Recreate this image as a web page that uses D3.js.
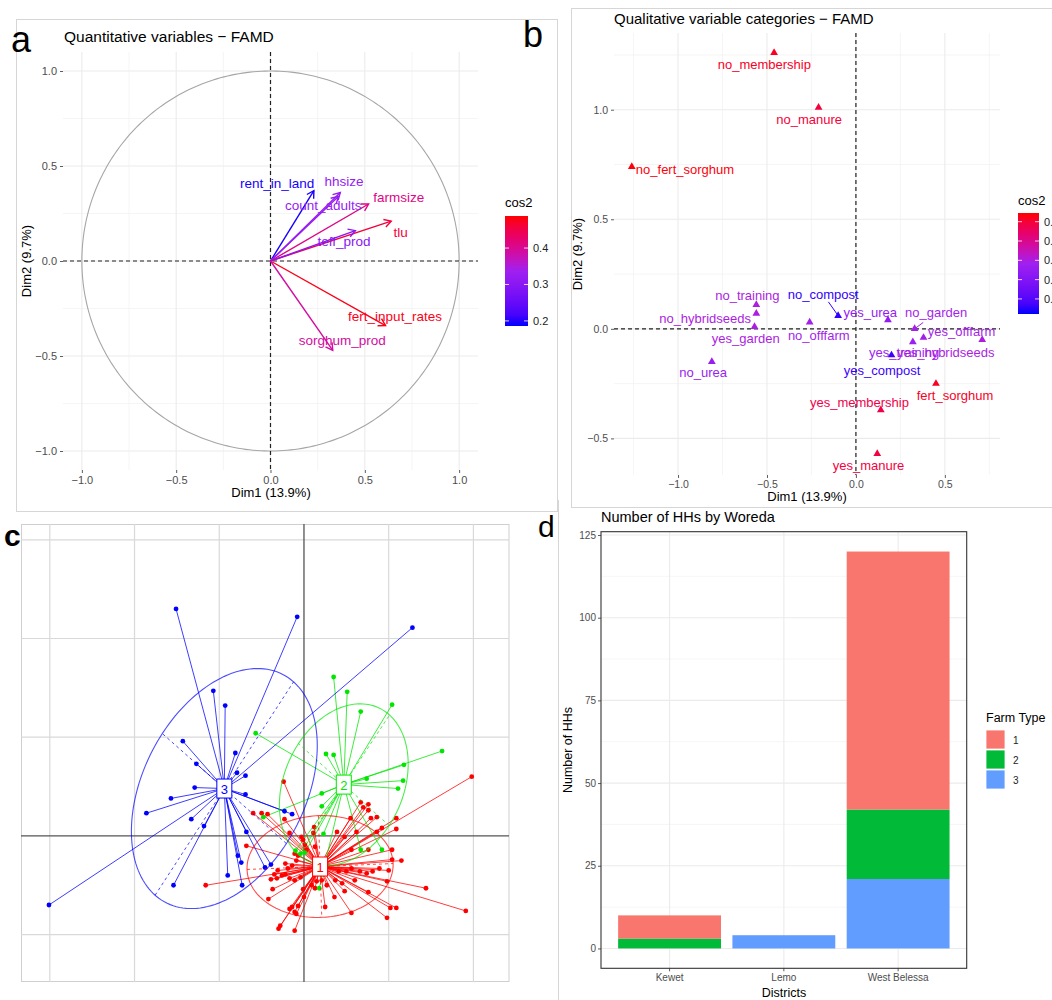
<!DOCTYPE html>
<html>
<head>
<meta charset="utf-8">
<script src="https://cdn.jsdelivr.net/npm/d3@7"></script>
<style>
body { margin: 0; background: #fff; }
text { font-family: "Liberation Sans", Arial, sans-serif; }
</style>
</head>
<body>
<div id="chart-area"></div>
<script>

// a - quantitative variables
const quantVars = ["rent_in_land", "hhsize", "count_adults", "farmsize", "tlu", "teff_prod", "fert_input_rates", "sorghum_prod"]
const quantDim1 = [0.23, 0.37, 0.36, 0.52, 0.64, 0.45, 0.61, 0.33]
const quantDim2 = [0.37, 0.36, 0.34, 0.30, 0.21, 0.16, -0.34, -0.47]
const quantCos2 = [0.19, 0.32, 0.32, 0.41, 0.46, 0.30, 0.48, 0.39]
const quantLabelX = [0.035, 0.39, 0.28, 0.68, 0.69, 0.39, 0.66, 0.38]
const quantLabelY = [0.41, 0.42, 0.29, 0.333, 0.15, 0.105, -0.29, -0.42]
const quantLegendTicks = [0.2, 0.3, 0.4]

// b - qualitative categories
const qualCats = ["no_membership", "no_manure", "no_fert_sorghum", "no_training", "no_hybridseeds", "yes_garden", "no_urea", "no_offfarm", "no_compost", "yes_urea", "no_garden", "yes_offfarm", "yes_training", "yes_hybridseeds", "yes_compost", "fert_sorghum", "yes_membership", "yes_manure"]
const qualDim1 = [-0.46, -0.21, -1.26, -0.56, -0.56, -0.57, -0.81, -0.26, -0.10, 0.18, 0.33, 0.38, 0.32, 0.71, 0.20, 0.45, 0.14, 0.12]
const qualDim2 = [1.26, 1.01, 0.74, 0.11, 0.07, 0.01, -0.15, 0.03, 0.06, 0.04, 0.00, -0.04, -0.06, -0.05, -0.12, -0.25, -0.37, -0.57]
const qualCos2 = [0.52, 0.50, 0.54, 0.30, 0.30, 0.30, 0.26, 0.29, 0.05, 0.25, 0.29, 0.29, 0.27, 0.30, 0.06, 0.52, 0.48, 0.49]
const qualLabelX = [-0.515, -0.263, -0.961, -0.61, -0.848, -0.619, -0.859, -0.209, -0.184, 0.081, 0.451, 0.594, 0.271, 0.505, 0.147, 0.557, 0.02, 0.071]
const qualLabelY = [1.206, 0.954, 0.729, 0.15, 0.045, -0.046, -0.2, -0.03, 0.157, 0.076, 0.073, -0.01, -0.107, -0.107, -0.188, -0.306, -0.335, -0.625]
const qualLegendTicks = [0.1, 0.2, 0.3, 0.4, 0.5]

// c - farm type clusters (ade4 s.class style)
const type1Points = [[1.98, 0.60], [1.44, -0.53], [1.91, -0.76], [-1.16, -0.50], [-0.24, 0.55],
	[-0.60, 0.23], [-0.50, 0.23], [-0.43, 0.22], [-0.23, 0.17], [-0.17, 0.03], [-0.01, -0.04], [0.01, -0.09],
	[-0.11, -0.18], [-0.07, -0.20], [-0.09, -0.25], [-0.14, -0.30], [-0.22, -0.28], [-0.19, -0.33], [-0.31, -0.35],
	[-0.26, -0.40], [-0.39, -0.44], [-0.32, -0.43], [-0.22, -0.39], [-0.17, -0.43], [-0.11, -0.45], [-0.04, -0.42],
	[-0.01, -0.54], [0.13, -0.53], [-0.37, -0.54], [-0.42, -0.64], [-0.14, -0.72], [-0.11, -0.77], [-0.07, -0.71],
	[-0.09, -0.79], [-0.17, -0.74], [-0.28, -0.91], [-0.30, -0.94], [-0.11, -0.96], [0.00, -0.62], [0.25, -0.72],
	[0.36, -0.62], [0.37, -0.45], [0.45, -0.48], [0.48, -0.56], [0.56, -0.78], [0.60, -0.45], [0.74, -0.38],
	[0.81, -0.36], [0.89, -0.33], [1.00, -0.35], [0.98, -0.46], [1.09, -0.73], [0.98, -0.83], [1.04, -0.24],
	[1.15, -0.25], [1.04, -0.14], [0.76, -0.14], [0.56, -0.14], [0.86, 0.04], [0.92, 0.08], [0.76, 0.26],
	[0.76, 0.32], [0.70, 0.29], [0.62, 0.04], [0.48, -0.01], [0.39, 0.04], [0.13, -0.11], [0.12, 0.09],
	[0.11, 0.03], [-0.35, -0.39], [0.41, -0.36], [0.50, -0.36], [0.56, -0.33], [0.66, -0.36], [0.21, -0.45],
	[0.27, -0.50], [0.15, -0.46], [0.09, -0.50], [0.03, -0.14], [-0.03, -0.01],
	[1.09, 0.18], [1.09, 0.07], [0.76, -0.57], [-0.68, -0.10], [0.79, 0.18], [0.86, 0.19], [0.55, 0.18], [0.67, 0.34], [1.02, -0.73]]
const type2Points = [[0.35, 1.61], [0.51, 1.46], [0.67, 1.26], [1.04, 1.33], [-0.57, 1.04], [0.26, 0.83], [0.35, 0.82],
	[1.18, 0.72], [1.63, 0.86], [0.74, 0.58], [1.17, 0.56], [1.11, 0.48], [0.21, 0.43], [0.21, 0.30], [-0.48, 0.19],
	[0.23, 0.02], [0.67, -0.14], [0.92, -0.14], [-0.10, -0.15], [0.18, -0.53], [-0.04, -0.18], [0.01, -0.17]]
const type3Points = [[-1.51, 2.30], [-0.08, 2.22], [1.28, 2.11], [-3.01, -0.70], [-1.07, 1.47], [-0.93, 1.32], [-1.43, 0.96],
	[-1.27, 0.73], [-0.81, 0.84], [-0.79, 0.64], [-0.69, 0.61], [-1.29, 0.49], [-1.57, 0.38], [-1.86, 0.23], [-1.33, 0.17],
	[-1.18, 0.10], [-0.69, 0.42], [-0.23, 0.25], [-0.14, 0.22], [-0.68, 0.04], [-0.78, -0.20], [-0.74, -0.27],
	[-0.90, -0.40], [-0.73, -0.50], [-1.54, -0.50], [-0.46, -0.32], [-0.39, -0.29]]
const typeCentroids = [[0.19, -0.31], [0.47, 0.52], [-0.94, 0.48]]
const ellipseMajor = [[0.862, 0.03], [0.54, 0.705], [0.817, 1.081]]
const ellipseMinor = [[0.02, -0.515], [-0.535, 0.415], [-0.732, 0.557]]

// d - households by woreda
const districts = ["Kewet", "Lemo", "West Belessa"]
const farmTypes = ["1", "2", "3"]
const type1Counts = [7, 0, 78]
const type2Counts = [3, 0, 21]
const type3Counts = [0, 4, 21]
const countTicks = [0, 25, 50, 75, 100, 125]

// R's "purple", not the CSS one
const gradientColours = ["#0000FF", "#A020F0", "#FF0000"]

const svg = d3.select("#chart-area").append("svg")
	.attr("width", 1052)
	.attr("height", 1000)
	.style("display", "block")

// image frames of the four pasted plots
svg.append("rect").attr("x", 16.5).attr("y", 19.5).attr("width", 541).attr("height", 492)
	.attr("fill", "none").attr("stroke", "#d6d6d6")
svg.append("rect").attr("x", 571.5).attr("y", 8.5).attr("width", 520).attr("height", 499)
	.attr("fill", "none").attr("stroke", "#d6d6d6")
svg.append("line").attr("x1", 558.5).attr("x2", 558.5).attr("y1", 500).attr("y2", 1000)
	.attr("stroke", "#d6d6d6")

function styleAxis(ax, size) {
	ax.select(".domain").remove()
	ax.selectAll(".tick line").attr("stroke", "#333").attr("stroke-width", 0.8)
	ax.selectAll(".tick text").attr("fill", "#4d4d4d").attr("font-size", size)
		.style("font-family", "'Liberation Sans', Arial, sans-serif")
}

function arrowHead(x0, y0, x1, y1, len) {
	const ang = Math.atan2(y1 - y0, x1 - x0)
	const p = d3.path()
	p.moveTo(x1 - len * Math.cos(ang - Math.PI / 6), y1 - len * Math.sin(ang - Math.PI / 6))
	p.lineTo(x1, y1)
	p.lineTo(x1 - len * Math.cos(ang + Math.PI / 6), y1 - len * Math.sin(ang + Math.PI / 6))
	return p.toString()
}

/******************************** Panel a ********************************/

const gA = svg.append("g")
const xA = d3.scaleLinear().domain([-1.1, 1.1]).range([63, 478])
const yA = d3.scaleLinear().domain([-1.1, 1.1]).range([470, 52])
const colA = d3.scaleLinear()
	.domain([0.186, (0.186 + 0.488) / 2, 0.488])
	.range(gradientColours)
	.interpolate(d3.interpolateLab)

const majA = [-1, -0.5, 0, 0.5, 1]
const minA = [-0.75, -0.25, 0.25, 0.75]
gA.selectAll(".gxmin").data(minA).enter().append("line")
	.attr("x1", d => xA(d)).attr("x2", d => xA(d)).attr("y1", 52).attr("y2", 470)
	.attr("stroke", "#f0f0f0").attr("stroke-width", 0.7)
gA.selectAll(".gymin").data(minA).enter().append("line")
	.attr("y1", d => yA(d)).attr("y2", d => yA(d)).attr("x1", 63).attr("x2", 478)
	.attr("stroke", "#f0f0f0").attr("stroke-width", 0.7)
gA.selectAll(".gxmaj").data(majA).enter().append("line")
	.attr("x1", d => xA(d)).attr("x2", d => xA(d)).attr("y1", 52).attr("y2", 470)
	.attr("stroke", "#ebebeb").attr("stroke-width", 1.1)
gA.selectAll(".gymaj").data(majA).enter().append("line")
	.attr("y1", d => yA(d)).attr("y2", d => yA(d)).attr("x1", 63).attr("x2", 478)
	.attr("stroke", "#ebebeb").attr("stroke-width", 1.1)

// correlation circle
const circleLine = d3.line().x(t => xA(Math.cos(t))).y(t => yA(Math.sin(t)))
gA.append("path")
	.attr("d", circleLine(d3.range(0, 2 * Math.PI + 0.01, 0.02)))
	.attr("fill", "none").attr("stroke", "#a6a6a6").attr("stroke-width", 1.1)

gA.append("line").attr("x1", xA(0)).attr("x2", xA(0)).attr("y1", 52).attr("y2", 470)
	.attr("stroke", "#222").attr("stroke-width", 1.2).attr("stroke-dasharray", "4,3")
gA.append("line").attr("y1", yA(0)).attr("y2", yA(0)).attr("x1", 63).attr("x2", 478)
	.attr("stroke", "#222").attr("stroke-width", 1.2).attr("stroke-dasharray", "4,3")

quantVars.forEach((v, i) => {
	const x0 = xA(0), y0 = yA(0)
	const x1 = xA(quantDim1[i]), y1 = yA(quantDim2[i])
	const col = colA(quantCos2[i])
	gA.append("line").attr("x1", x0).attr("y1", y0).attr("x2", x1).attr("y2", y1)
		.attr("stroke", col).attr("stroke-width", 1.4)
	gA.append("path").attr("d", arrowHead(x0, y0, x1, y1, 8))
		.attr("fill", "none").attr("stroke", col).attr("stroke-width", 1.4)
})
quantVars.forEach((v, i) => {
	gA.append("text")
		.attr("x", xA(quantLabelX[i])).attr("y", yA(quantLabelY[i]))
		.attr("text-anchor", "middle").attr("dominant-baseline", "central")
		.attr("font-size", 13.5).attr("fill", colA(quantCos2[i]))
		.text(v)
})

const axAx = gA.append("g").attr("transform", "translate(0,470)")
	.call(d3.axisBottom(xA).tickValues(majA).tickFormat(d3.format(".1f")).tickSize(3).tickPadding(3))
styleAxis(axAx, 11)
const axAy = gA.append("g").attr("transform", "translate(63,0)")
	.call(d3.axisLeft(yA).tickValues(majA).tickFormat(d3.format(".1f")).tickSize(3).tickPadding(3))
styleAxis(axAy, 11)

gA.append("text").attr("x", 64).attr("y", 42).attr("font-size", 15.5).attr("fill", "#000")
	.text("Quantitative variables \u2212 FAMD")
gA.append("text").attr("x", 271).attr("y", 497).attr("text-anchor", "middle")
	.attr("font-size", 13).text("Dim1 (13.9%)")
gA.append("text").attr("transform", "translate(31,261) rotate(-90)").attr("text-anchor", "middle")
	.attr("font-size", 13).text("Dim2 (9.7%)")

// colour bar a
const defs = svg.append("defs")
const gradA = defs.append("linearGradient").attr("id", "gradA")
	.attr("x1", 0).attr("y1", 1).attr("x2", 0).attr("y2", 0)
d3.range(0, 1.001, 0.1).forEach(t => {
	gradA.append("stop").attr("offset", t).attr("stop-color", colA(0.186 + t * (0.488 - 0.186)))
})
const lyA = d3.scaleLinear().domain([0.186, 0.488]).range([326, 216])
gA.append("text").attr("x", 505).attr("y", 207).attr("font-size", 13).text("cos2")
gA.append("rect").attr("x", 505).attr("y", 216).attr("width", 23).attr("height", 110)
	.attr("fill", "url(#gradA)")
quantLegendTicks.forEach(v => {
	gA.append("line").attr("x1", 505).attr("x2", 509).attr("y1", lyA(v)).attr("y2", lyA(v))
		.attr("stroke", "#fff").attr("stroke-width", 0.8)
	gA.append("line").attr("x1", 524).attr("x2", 528).attr("y1", lyA(v)).attr("y2", lyA(v))
		.attr("stroke", "#fff").attr("stroke-width", 0.8)
	gA.append("text").attr("x", 533).attr("y", lyA(v)).attr("dominant-baseline", "central")
		.attr("font-size", 11).attr("fill", "#222").text(d3.format(".1f")(v))
})

/******************************** Panel b ********************************/

const gB = svg.append("g")
const xB = d3.scaleLinear().domain([-1.36, 0.81]).range([614, 1000])
const yB = d3.scaleLinear().domain([-0.667, 1.35]).range([475, 33])
const colB = d3.scaleLinear()
	.domain([0.022, (0.022 + 0.545) / 2, 0.545])
	.range(gradientColours)
	.interpolate(d3.interpolateLab)

const majBx = [-1, -0.5, 0, 0.5], minBx = [-1.25, -0.75, -0.25, 0.25, 0.75]
const majBy = [-0.5, 0, 0.5, 1], minBy = [-0.25, 0.25, 0.75, 1.25]
gB.selectAll(".gxmin").data(minBx).enter().append("line")
	.attr("x1", d => xB(d)).attr("x2", d => xB(d)).attr("y1", 33).attr("y2", 475)
	.attr("stroke", "#f0f0f0").attr("stroke-width", 0.7)
gB.selectAll(".gymin").data(minBy).enter().append("line")
	.attr("y1", d => yB(d)).attr("y2", d => yB(d)).attr("x1", 614).attr("x2", 1000)
	.attr("stroke", "#f0f0f0").attr("stroke-width", 0.7)
gB.selectAll(".gxmaj").data(majBx).enter().append("line")
	.attr("x1", d => xB(d)).attr("x2", d => xB(d)).attr("y1", 33).attr("y2", 475)
	.attr("stroke", "#ebebeb").attr("stroke-width", 1.1)
gB.selectAll(".gymaj").data(majBy).enter().append("line")
	.attr("y1", d => yB(d)).attr("y2", d => yB(d)).attr("x1", 614).attr("x2", 1000)
	.attr("stroke", "#ebebeb").attr("stroke-width", 1.1)

gB.append("line").attr("x1", xB(0)).attr("x2", xB(0)).attr("y1", 33).attr("y2", 475)
	.attr("stroke", "#222").attr("stroke-width", 1.2).attr("stroke-dasharray", "4,3")
gB.append("line").attr("y1", yB(0)).attr("y2", yB(0)).attr("x1", 614).attr("x2", 1000)
	.attr("stroke", "#222").attr("stroke-width", 1.2).attr("stroke-dasharray", "4,3")

// repel segments
const segFrac = { no_compost: 0.65, no_garden: 0.4 }
qualCats.forEach((c, i) => {
	if (!segFrac[c]) return
	const f = segFrac[c]
	gB.append("line")
		.attr("x1", xB(qualDim1[i])).attr("y1", yB(qualDim2[i]))
		.attr("x2", xB(qualDim1[i] + f * (qualLabelX[i] - qualDim1[i])))
		.attr("y2", yB(qualDim2[i] + f * (qualLabelY[i] - qualDim2[i])))
		.attr("stroke", colB(qualCos2[i])).attr("stroke-width", 1)
})

const tri = d3.symbol().type(d3.symbolTriangle).size(26)
gB.selectAll(".pt").data(qualCats).enter().append("path")
	.attr("d", tri)
	.attr("transform", (d, i) => `translate(${xB(qualDim1[i])},${yB(qualDim2[i])})`)
	.attr("fill", (d, i) => colB(qualCos2[i]))
gB.selectAll(".lab").data(qualCats).enter().append("text")
	.attr("x", (d, i) => xB(qualLabelX[i]))
	.attr("y", (d, i) => yB(qualLabelY[i]))
	.attr("text-anchor", "middle").attr("dominant-baseline", "central")
	.attr("font-size", 13)
	.attr("fill", (d, i) => colB(qualCos2[i]))
	.text(d => d)

const axBx = gB.append("g").attr("transform", "translate(0,475)")
	.call(d3.axisBottom(xB).tickValues(majBx).tickFormat(d3.format(".1f")).tickSize(3).tickPadding(3))
styleAxis(axBx, 10.5)
const axBy = gB.append("g").attr("transform", "translate(614,0)")
	.call(d3.axisLeft(yB).tickValues(majBy).tickFormat(d3.format(".1f")).tickSize(3).tickPadding(3))
styleAxis(axBy, 10.5)

gB.append("text").attr("x", 614).attr("y", 24).attr("font-size", 15)
	.text("Qualitative variable categories \u2212 FAMD")
gB.append("text").attr("x", 807).attr("y", 501).attr("text-anchor", "middle")
	.attr("font-size", 13).text("Dim1 (13.9%)")
gB.append("text").attr("transform", "translate(582,254) rotate(-90)").attr("text-anchor", "middle")
	.attr("font-size", 13).text("Dim2 (9.7%)")

const gradB = defs.append("linearGradient").attr("id", "gradB")
	.attr("x1", 0).attr("y1", 1).attr("x2", 0).attr("y2", 0)
d3.range(0, 1.001, 0.1).forEach(t => {
	gradB.append("stop").attr("offset", t).attr("stop-color", colB(0.022 + t * (0.545 - 0.022)))
})
const lyB = d3.scaleLinear().domain([0.022, 0.545]).range([314, 213])
gB.append("text").attr("x", 1018).attr("y", 205).attr("font-size", 13).text("cos2")
gB.append("rect").attr("x", 1018).attr("y", 213).attr("width", 21).attr("height", 101)
	.attr("fill", "url(#gradB)")
qualLegendTicks.forEach(v => {
	gB.append("line").attr("x1", 1018).attr("x2", 1022).attr("y1", lyB(v)).attr("y2", lyB(v))
		.attr("stroke", "#fff").attr("stroke-width", 0.8)
	gB.append("line").attr("x1", 1035).attr("x2", 1039).attr("y1", lyB(v)).attr("y2", lyB(v))
		.attr("stroke", "#fff").attr("stroke-width", 0.8)
	gB.append("text").attr("x", 1044).attr("y", lyB(v)).attr("dominant-baseline", "central")
		.attr("font-size", 11).attr("fill", "#222").text(d3.format(".1f")(v))
})

/******************************** Panel c ********************************/

const gC = svg.append("g")
const xC = d3.scaleLinear().domain([-3.34, 2.42]).range([21, 509])
const yC = d3.scaleLinear().domain([-1.48, 3.16]).range([982, 524])
const typeColours = ["#ff0000", "#00e600", "#0000ff"]

gC.append("rect").attr("x", 21.5).attr("y", 524.5).attr("width", 487.5).attr("height", 457)
	.attr("fill", "#fff").attr("stroke", "#cfcfcf")
gC.selectAll(".gx").data([-3, -2, -1, 1, 2]).enter().append("line")
	.attr("x1", d => xC(d)).attr("x2", d => xC(d)).attr("y1", 524).attr("y2", 982)
	.attr("stroke", "#d9d9d9").attr("stroke-width", 1.2)
gC.selectAll(".gy").data([-1, 1, 2, 3]).enter().append("line")
	.attr("y1", d => yC(d)).attr("y2", d => yC(d)).attr("x1", 21).attr("x2", 509)
	.attr("stroke", "#d9d9d9").attr("stroke-width", 1.2)
gC.append("line").attr("x1", xC(0)).attr("x2", xC(0)).attr("y1", 524).attr("y2", 982)
	.attr("stroke", "#555").attr("stroke-width", 1.3)
gC.append("line").attr("y1", yC(0)).attr("y2", yC(0)).attr("x1", 21).attr("x2", 509)
	.attr("stroke", "#555").attr("stroke-width", 1.3)

const clusters = [type1Points, type2Points, type3Points]
clusters.forEach((pts, k) => {
	const c = typeCentroids[k]
	gC.selectAll(`.star${k}`).data(pts).enter().append("line")
		.attr("x1", xC(c[0])).attr("y1", yC(c[1]))
		.attr("x2", d => xC(d[0])).attr("y2", d => yC(d[1]))
		.attr("stroke", typeColours[k]).attr("stroke-width", 0.9).attr("stroke-opacity", 0.85)
})
clusters.forEach((pts, k) => {
	gC.selectAll(`.pt${k}`).data(pts).enter().append("circle")
		.attr("cx", d => xC(d[0])).attr("cy", d => yC(d[1])).attr("r", 2.4)
		.attr("fill", typeColours[k])
})

// ellipses with their axes
const ellLine = d3.line().x(d => xC(d[0])).y(d => yC(d[1])).curve(d3.curveLinearClosed)
typeCentroids.forEach((c, k) => {
	const a = ellipseMajor[k], b = ellipseMinor[k]
	const ring = d3.range(0, 2 * Math.PI, 0.04).map(t => [
		c[0] + a[0] * Math.cos(t) + b[0] * Math.sin(t),
		c[1] + a[1] * Math.cos(t) + b[1] * Math.sin(t)
	])
	gC.append("path").attr("d", ellLine(ring))
		.attr("fill", "none").attr("stroke", typeColours[k]).attr("stroke-width", 1.1).attr("stroke-opacity", 0.7)
	;[a, b].forEach(v => {
		gC.append("line")
			.attr("x1", xC(c[0] - v[0])).attr("y1", yC(c[1] - v[1]))
			.attr("x2", xC(c[0] + v[0])).attr("y2", yC(c[1] + v[1]))
			.attr("stroke", typeColours[k]).attr("stroke-width", 1).attr("stroke-opacity", 0.7)
			.attr("stroke-dasharray", "3,3")
	})
})
typeCentroids.forEach((c, k) => {
	gC.append("rect").attr("x", xC(c[0]) - 7.5).attr("y", yC(c[1]) - 9.5)
		.attr("width", 15).attr("height", 19)
		.attr("fill", "#fff").attr("stroke", typeColours[k]).attr("stroke-width", 1)
	gC.append("text").attr("x", xC(c[0])).attr("y", yC(c[1]) + 1)
		.attr("text-anchor", "middle").attr("dominant-baseline", "central")
		.attr("font-size", 13).attr("fill", typeColours[k]).text(k + 1)
})

/******************************** Panel d ********************************/

const gD = svg.append("g")
const xD = d3.scaleBand().domain(districts).range([601, 966.7]).paddingInner(0.1).paddingOuter(0.15)
const yD = d3.scaleLinear().domain([-6, 126]).range([968.3, 531.7])
const fillD = d3.scaleOrdinal().domain(farmTypes).range(["#F8766D", "#00BA38", "#619CFF"])

gD.selectAll(".gymin").data([12.5, 37.5, 62.5, 87.5, 112.5]).enter().append("line")
	.attr("y1", d => yD(d)).attr("y2", d => yD(d)).attr("x1", 601).attr("x2", 966.7)
	.attr("stroke", "#f2f2f2").attr("stroke-width", 0.7)
gD.selectAll(".gymaj").data(countTicks).enter().append("line")
	.attr("y1", d => yD(d)).attr("y2", d => yD(d)).attr("x1", 601).attr("x2", 966.7)
	.attr("stroke", "#ebebeb").attr("stroke-width", 1.1)
gD.selectAll(".gx").data(districts).enter().append("line")
	.attr("x1", d => xD(d) + xD.bandwidth() / 2).attr("x2", d => xD(d) + xD.bandwidth() / 2)
	.attr("y1", 531.7).attr("y2", 968.3)
	.attr("stroke", "#ebebeb").attr("stroke-width", 1.1)

const rowsD = districts.map((d, i) => ({ district: d, "1": type1Counts[i], "2": type2Counts[i], "3": type3Counts[i] }))
const stackD = d3.stack().keys(["3", "2", "1"])(rowsD)
gD.selectAll(".layer").data(stackD).enter().append("g")
	.attr("fill", s => fillD(s.key))
	.selectAll("rect").data(s => s).enter().append("rect")
	.attr("x", d => xD(d.data.district))
	.attr("width", xD.bandwidth())
	.attr("y", d => yD(d[1]))
	.attr("height", d => yD(d[0]) - yD(d[1]))

gD.append("rect").attr("x", 601).attr("y", 531.7).attr("width", 365.7).attr("height", 436.6)
	.attr("fill", "none").attr("stroke", "#333").attr("stroke-width", 1.1)

const axDx = gD.append("g").attr("transform", "translate(0,968.3)")
	.call(d3.axisBottom(xD).tickSize(3).tickPadding(3))
styleAxis(axDx, 10)
const axDy = gD.append("g").attr("transform", "translate(601,0)")
	.call(d3.axisLeft(yD).tickValues(countTicks).tickSize(3).tickPadding(2))
styleAxis(axDy, 10)

gD.append("text").attr("x", 601).attr("y", 522).attr("font-size", 14.5).text("Number of HHs by Woreda")
gD.append("text").attr("x", 784).attr("y", 997).attr("text-anchor", "middle")
	.attr("font-size", 12.5).text("Districts")
gD.append("text").attr("transform", "translate(572,750) rotate(-90)").attr("text-anchor", "middle")
	.attr("font-size", 12.5).text("Number of HHs")

gD.append("text").attr("x", 986).attr("y", 722).attr("font-size", 12.5).text("Farm Type")
farmTypes.forEach((t, i) => {
	gD.append("rect").attr("x", 986).attr("y", 730 + i * 20).attr("width", 19).attr("height", 19)
		.attr("fill", fillD(t)).attr("stroke", "#fff").attr("stroke-width", 0.8)
	gD.append("text").attr("x", 1013).attr("y", 740 + i * 20).attr("dominant-baseline", "central")
		.attr("font-size", 10).attr("fill", "#222").text(t)
})

// panel letters
svg.append("text").attr("x", 11).attr("y", 52).attr("font-size", 36).text("a")
svg.append("text").attr("x", 523).attr("y", 47).attr("font-size", 36).text("b")
svg.append("text").attr("x", 4).attr("y", 546).attr("font-size", 30).attr("font-weight", "bold").text("c")
svg.append("text").attr("x", 538).attr("y", 537).attr("font-size", 30).text("d")

</script>
</body>
</html>
